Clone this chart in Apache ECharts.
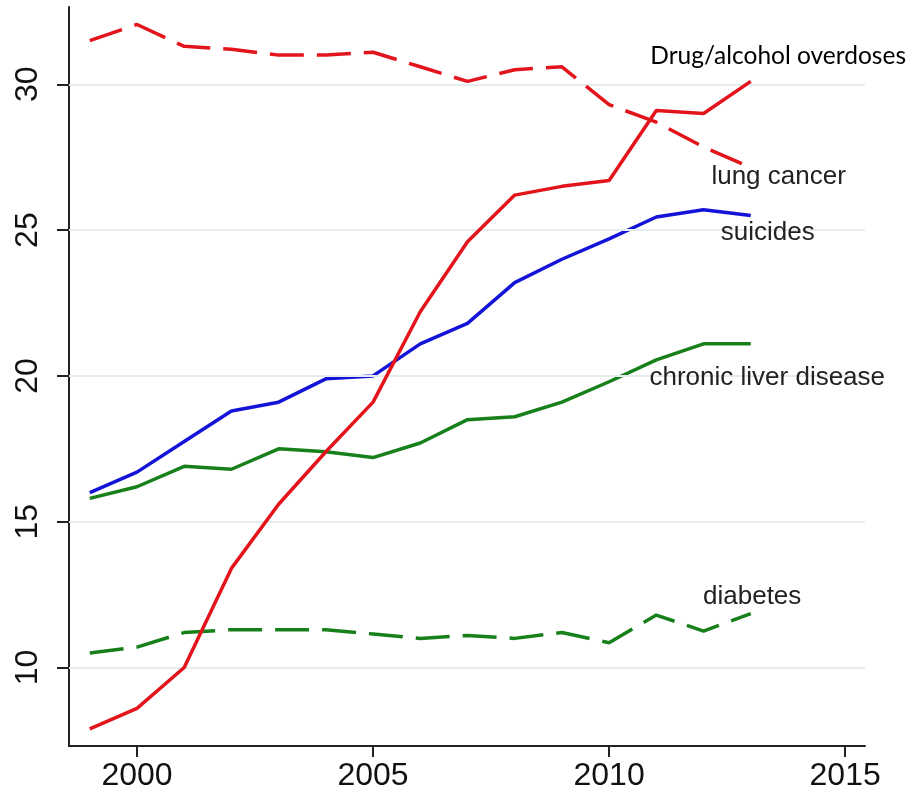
<!DOCTYPE html>
<html>
<head>
<meta charset="utf-8">
<script src="https://cdn.jsdelivr.net/npm/echarts@6/dist/echarts.min.js"></script>
<style>html,body{margin:0;padding:0;background:#fff}#c{width:912px;height:793px}</style>
</head>
<body>
<div id="c"></div>
<script>
const years = [1999,2000,2001,2002,2003,2004,2005,2006,2007,2008,2009,2010,2011,2012,2013];
const drugOverdoses = [7.9,8.6,10.0,13.4,15.6,17.4,19.1,22.2,24.6,26.2,26.5,26.7,29.1,29.0,30.1];
const lungCancer = [31.5,32.05,31.3,31.2,31.0,31.0,31.1,30.6,30.1,30.5,30.6,29.3,28.7,27.85,27.15];
const suicides = [16.0,16.7,17.75,18.8,19.1,19.9,20.0,21.1,21.8,23.2,24.0,24.7,25.45,25.7,25.5];
const liverDisease = [15.8,16.2,16.9,16.8,17.5,17.4,17.2,17.7,18.5,18.6,19.1,19.8,20.55,21.1,21.1];
const diabetes = [10.5,10.7,11.2,11.3,11.3,11.3,11.15,11.0,11.1,11.0,11.2,10.85,11.8,11.25,11.85];
const xTicks = [2000,2005,2010,2015];
const yTicks = [10,15,20,25,30];
const labels = ['Drug/alcohol overdoses','lung cancer','suicides','chronic liver disease','diabetes'];

const pairs = arr => years.map((y,i)=>[y,arr[i]]);
const RED='#e3141b', BLUE='#1414d8', GREEN='#17801a';
const dash=[34,13];
const SANS = '"Liberation Sans", Arial, sans-serif';
function lbl(text, coord, font, size, color){
  const ls = {show:true, position:'inside', formatter:text, color:color||'#222', fontSize:size, fontFamily:font};
  return {symbol:'rect', symbolSize:1, silent:true, itemStyle:{color:'rgba(0,0,0,0)'},
    label:ls, data:[{coord:coord, label:ls}]};
}
const chart = echarts.init(document.getElementById('c'), null, {renderer:'canvas'});
chart.setOption({
  animation:false,
  textStyle:{fontFamily:SANS},
  grid:{left:69, right:47, top:7, bottom:47, containLabel:false},
  xAxis:{type:'value', min:1998.56, max:2015.42,
    axisLine:{show:true, onZero:false, lineStyle:{color:'#222', width:2}},
    axisTick:{show:true, length:11, customValues:xTicks, lineStyle:{color:'#222', width:2}},
    axisLabel:{customValues:xTicks, fontSize:32, color:'#111', fontFamily:SANS, margin:14, formatter:v=>String(v)},
    splitLine:{show:false}},
  yAxis:{type:'value', min:7.31, max:32.65,
    axisLine:{show:true, onZero:false, lineStyle:{color:'#222', width:2}},
    axisTick:{show:true, length:12, customValues:yTicks, lineStyle:{color:'#222', width:2}},
    axisLabel:{customValues:yTicks, rotate:90, fontSize:32, color:'#111', fontFamily:SANS, margin:25, formatter:v=>String(v)},
    splitLine:{show:false}},
  series:[
    {type:'line', data:pairs(diabetes), showSymbol:false, lineStyle:{color:GREEN, width:3.5, type:dash}, z:2,
      markLine:{symbol:'none', silent:true, label:{show:false}, lineStyle:{color:'#e4ecee', width:2, type:'solid'},
        data:yTicks.map(v=>({yAxis:v}))},
      markPoint:lbl(labels[4],[2013.03,12.44],SANS,26)},
    {type:'line', data:pairs(liverDisease), showSymbol:false, lineStyle:{color:GREEN, width:3.5}, z:3,
      markPoint:lbl(labels[3],[2013.35,19.95],SANS,26)},
    {type:'line', data:pairs(suicides), showSymbol:false, lineStyle:{color:BLUE, width:3.5}, z:4,
      markPoint:lbl(labels[2],[2013.36,24.92],SANS,26)},
    {type:'line', data:pairs(lungCancer), showSymbol:false, lineStyle:{color:RED, width:3.5, type:dash}, z:5,
      markPoint:lbl(labels[1],[2013.59,26.81],SANS,26)},
    {type:'line', data:pairs(drugOverdoses), showSymbol:false, lineStyle:{color:RED, width:3.5}, z:6,
      markPoint:lbl(labels[0],[2013.58,30.96],'Lato, sans-serif',24.5,'#000')}
  ]
});
</script>
</body>
</html>
